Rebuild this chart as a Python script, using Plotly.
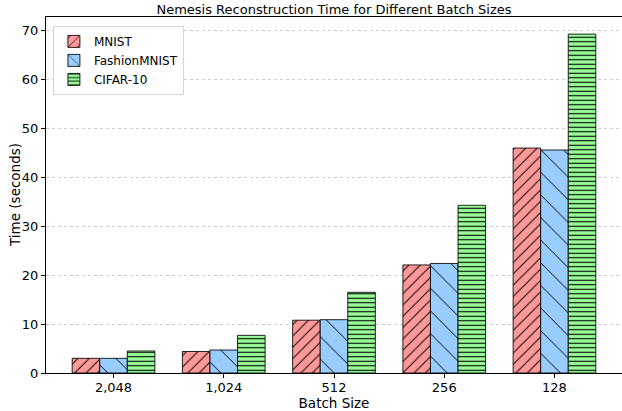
import plotly.graph_objects as go

batch_labels = ["2,048", "1,024", "512", "256", "128"]
series_names = ["MNIST", "FashionMNIST", "CIFAR-10"]
mnist = [3.0, 4.4, 10.8, 22.1, 46.0]
fashion = [3.0, 4.7, 10.9, 22.4, 45.6]
cifar = [4.5, 7.7, 16.5, 34.3, 69.3]

values = [mnist, fashion, cifar]
colors = ["#ff9999", "#99ccff", "#99ff99"]
shapes = ["/", "\\", "-"]
sizes = [8, 16, 4.5]
solid = [0.12, 0.06, 0.25]
width = 0.25
offsets = [-width, 0, width]

fig = go.Figure()
idx = list(range(len(batch_labels)))
for name, vals, col, shp, sz, so, off in zip(series_names, values, colors, shapes, sizes, solid, offsets):
    fig.add_trace(go.Bar(
        x=[i + off for i in idx],
        y=vals,
        width=width,
        name=name,
        marker=dict(
            color=col,
            line=dict(color="rgba(0,0,0,0.85)", width=1),
            pattern=dict(shape=shp, fgcolor="black", bgcolor=col, size=sz, solidity=so, fillmode="replace"),
        ),
    ))

L, R, T, B = 46, 0, 17, 38
W, H = 622, 411
pw = W - L - R

font = "DejaVu Sans, Verdana, sans-serif"
fig.update_layout(
    width=W, height=H,
    margin=dict(l=L, r=R, t=T, b=B),
    barmode="overlay",
    plot_bgcolor="white", paper_bgcolor="white",
    font=dict(family=font, size=13, color="black"),
    title=dict(text="Nemesis Reconstruction Time for Different Batch Sizes",
               x=(L + pw / 2) / W, xanchor="center", y=1 - 9 / H, yanchor="middle",
               font=dict(size=13)),
    showlegend=True,
    legend=dict(x=0.012, y=0.975, xanchor="left", yanchor="top",
                bgcolor="white", bordercolor="#d4d4d4", borderwidth=1,
                font=dict(size=12), tracegroupgap=0, itemwidth=30),
    xaxis=dict(
        range=[-0.6125, 4.6125],
        tickvals=idx, ticktext=batch_labels,
        ticks="outside", ticklen=4, tickcolor="black",
        showline=True, linecolor="black", linewidth=1, mirror=True,
        showgrid=False, zeroline=False,
        title=dict(text="Batch Size", standoff=0, font=dict(size=13.5)),
        tickfont=dict(size=13),
        ticklabelstandoff=-2,
    ),
    yaxis=dict(
        range=[0, 72.8], dtick=10,
        ticks="outside", ticklen=4, tickcolor="black",
        showline=True, linecolor="black", linewidth=1, mirror=True,
        showgrid=True, gridcolor="#cccccc", griddash="dot", gridwidth=1,
        zeroline=False,
        tickfont=dict(size=13),
    ),
    annotations=[dict(
        text="Time (seconds)", textangle=-90, showarrow=False,
        xref="paper", yref="paper", x=(15 - L) / pw, y=0.5,
        xanchor="center", yanchor="middle", font=dict(size=13.5),
    )],
)

fig.write_html("out.html", config={"displayModeBar": False},
               post_script="document.body.style.margin='0';document.body.style.overflow='hidden';")
